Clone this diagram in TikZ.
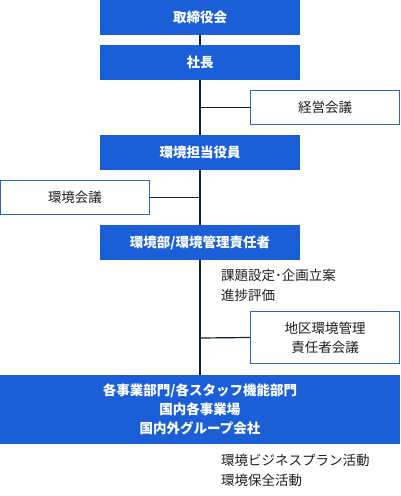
\documentclass[tikz,border=0pt]{standalone}
\usepackage{fontspec}
\setmainfont{Noto Sans CJK JP}
\definecolor{mainblue}{HTML}{1A5FD8}
\definecolor{edgeblue}{HTML}{2A62C6}
\definecolor{linecol}{HTML}{0E2330}
\definecolor{txtcol}{HTML}{1E1E1E}
\begin{document}
\begin{tikzpicture}[x=1pt,y=-1pt,
  bluebox/.style={rectangle, fill=mainblue, text=white, inner sep=0pt, minimum width=200pt, minimum height=35pt, font=\fontsize{13.5}{19}\selectfont\bfseries, align=center},
  whitebox/.style={rectangle, draw=edgeblue, line width=1pt, fill=white, text=txtcol, inner sep=0pt, minimum width=149pt, minimum height=34pt, font=\fontsize{13.5}{19}\selectfont, align=center},
  note/.style={inner sep=0pt, text=txtcol, font=\fontsize{13.5}{20}\selectfont, align=left, anchor=west},
  conn/.style={draw=linecol, line width=1.2pt}]
\useasboundingbox (0,0) rectangle (400,496);
\node[bluebox] (b1) at (200,17.5) {取締役会};
\node[bluebox] (b2) at (200,62.5) {社長};
\node[bluebox] (b3) at (200,152.5) {環境担当役員};
\node[bluebox] (b4) at (200,242.5) {環境部/環境管理責任者};
\node[bluebox, minimum width=400pt, minimum height=69pt] (b5) at (200,409.5) {各事業部門/各スタッフ機能部門\\国内各事業場\\国内外グループ会社};
\node[whitebox] (k1) at (325,107.5) {経営会議};
\node[whitebox] (k2) at (75,197.5) {環境会議};
\node[whitebox, minimum height=52pt] (k3) at (325,337.5) {地区環境管理\\責任者会議};
\node[note] (t1) at (221,285.5) {課題設定･企画立案\\進捗評価};
\node[note] (t2) at (221,470) {環境ビジネスプラン活動\\環境保全活動};
\coordinate (j1) at (200,107.5);
\coordinate (j2) at (200,197.5);
\coordinate (j3) at (200,338);
\draw[conn] (b1.south) -- (b2.north);
\draw[conn] (b2.south) -- (b3.north);
\draw[conn] (b3.south) -- (b4.north);
\draw[conn] (b4.south) -- (b5.north);
\draw[conn] (j1) -- (k1.west);
\draw[conn] (j2) -- (k2.east);
\draw[conn] (j3) -- (k3.west);
\end{tikzpicture}
\end{document}
